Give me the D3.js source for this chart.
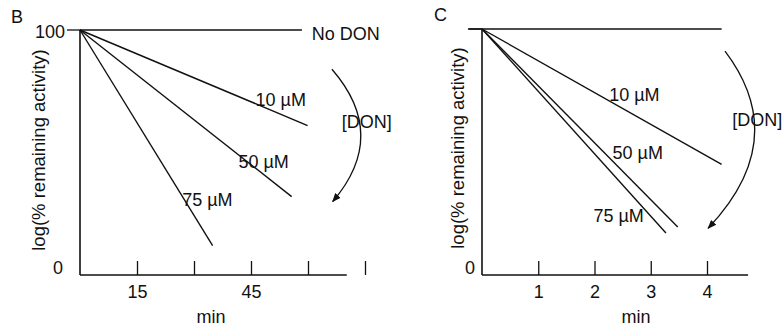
<!DOCTYPE html>
<html>
<head>
<meta charset="utf-8">
<script src="https://cdn.jsdelivr.net/npm/d3@7"></script>
<style>
  body { margin: 0; background: #fff; }
  svg { display: block; font-family: "Liberation Sans", Arial, sans-serif; }
  text { fill: #111; }
</style>
</head>
<body>
<svg width="783" height="327"></svg>
<script>
var WIDTH = 783;
var HEIGHT = 327;

// panel B: time in min, y = % remaining activity (log axis drawn schematically)
var bSeries = ['No DON', '10 \u00b5M', '50 \u00b5M', '75 \u00b5M'];
var bStart = [0, 100];
var bEndX = [58.4, 59.9, 55.7, 34.9];
var bEndY = [100, 61, 32, 12];
var bTickValues = [15, 30, 45, 60, 75];
var bTickText = ['15', '', '45', '', ''];
// label anchors (data units)
var bLabelX = [61.0, 46.2, 41.7, 26.9];
var bLabelY = [98.4, 71.4, 46.1, 30.6];
var bArrow = [[66.3, 84], [73.9, 57], [66.5, 30]];
var bArrowLabel = [68.9, 62.4];

// panel C
var cSeries = ['', '10 \u00b5M', '50 \u00b5M', '75 \u00b5M'];
var cStart = [0, 100];
var cEndX = [4.26, 4.26, 3.48, 3.27];
var cEndY = [100, 45, 19.5, 17.1];
var cTickValues = [1, 2, 3, 4];
var cTickText = ['1', '2', '3', '4'];
var cLabelX = [0, 2.26, 2.32, 1.98];
var cLabelY = [0, 73.2, 49.6, 24.0];
var cArrow = [[4.32, 91], [4.84, 55], [4.02, 19]];
var cArrowLabel = [4.45, 63.0];

var svg = d3.select('svg')
  .attr('width', WIDTH)
  .attr('height', HEIGHT);

svg.append('defs').append('marker')
  .attr('id', 'head')
  .attr('viewBox', '0 0 10 10')
  .attr('refX', 9).attr('refY', 5)
  .attr('markerWidth', 9).attr('markerHeight', 9)
  .attr('markerUnits', 'userSpaceOnUse')
  .attr('orient', 'auto')
  .append('path')
  .attr('d', 'M0,1 L10,5 L0,9 Z')
  .attr('fill', '#111');

function drawPanel(p) {
  var x = d3.scaleLinear().domain(p.xDomain).range(p.xRange);
  var y = d3.scaleLinear().domain([0, 100]).range(p.yRange);
  var g = svg.append('g');

  // letter
  g.append('text').attr('x', p.letterPos[0]).attr('y', p.letterPos[1])
    .attr('font-size', 18).text(p.letter);

  // y axis
  g.append('line')
    .attr('x1', x(0)).attr('x2', x(0))
    .attr('y1', y(100)).attr('y2', y(0))
    .attr('stroke', '#111').attr('stroke-width', 1.6);
  g.append('line')
    .attr('x1', x(0) - 13).attr('x2', x(0))
    .attr('y1', y(100)).attr('y2', y(100))
    .attr('stroke', '#111').attr('stroke-width', 1.3);
  if (p.showTop) {
    g.append('text').attr('x', x(0) - 15).attr('y', y(100) + 2)
      .attr('text-anchor', 'end').attr('dominant-baseline', 'central')
      .attr('font-size', 18).text('100');
  }
  g.append('text').attr('x', x(0) - p.zeroGap).attr('y', y(0) - 7)
    .attr('text-anchor', 'end').attr('dominant-baseline', 'central')
    .attr('font-size', 18).text('0');

  g.append('text')
    .attr('transform', 'translate(' + p.yLabelX + ',' + p.yLabelY + ') rotate(-90)')
    .attr('text-anchor', 'middle').attr('dominant-baseline', 'central')
    .attr('font-size', 18.5).text('log(% remaining activity)');

  // x axis
  g.append('line')
    .attr('x1', x(0)).attr('x2', x(p.axisEnd))
    .attr('y1', y(0)).attr('y2', y(0))
    .attr('stroke', '#111').attr('stroke-width', 1.5);
  var ax = g.append('g')
    .attr('transform', 'translate(0,' + y(0) + ')')
    .call(d3.axisBottom(x)
      .tickValues(p.ticks)
      .tickSizeInner(-14).tickSizeOuter(0).tickPadding(10)
      .tickFormat(function (d, i) { return p.tickText[i]; }));
  ax.select('.domain').remove();
  ax.selectAll('line').attr('stroke', '#111').attr('stroke-width', 1.3);
  ax.selectAll('text').attr('font-size', 18).attr('font-family', null).attr('fill', '#111');

  g.append('text').attr('x', p.minX).attr('y', 317)
    .attr('text-anchor', 'middle').attr('dominant-baseline', 'central')
    .attr('font-size', 18).text('min');

  // decay lines
  var rows = p.endX.map(function (ex, i) {
    return { x0: (i === 0 ? p.topStart : p.start[0]), y0: p.start[1], x1: ex, y1: p.endY[i] };
  });
  g.selectAll('.decay').data(rows).enter().append('line')
    .attr('class', 'decay')
    .attr('x1', function (d) { return x(d.x0); })
    .attr('y1', function (d) { return y(d.y0); })
    .attr('x2', function (d) { return x(d.x1); })
    .attr('y2', function (d) { return y(d.y1); })
    .attr('stroke', '#111').attr('stroke-width', 1.4);

  g.selectAll('.lab').data(p.series).enter().append('text')
    .attr('class', 'lab')
    .attr('x', function (d, i) { return x(p.labelX[i]); })
    .attr('y', function (d, i) { return y(p.labelY[i]); })
    .attr('dominant-baseline', 'central')
    .attr('font-size', 18)
    .text(function (d) { return d; });

  // [DON] arrow: quadratic curve passing through the middle point
  var a0 = [x(p.arrow[0][0]), y(p.arrow[0][1])];
  var am = [x(p.arrow[1][0]), y(p.arrow[1][1])];
  var a1 = [x(p.arrow[2][0]), y(p.arrow[2][1])];
  var cx = 2 * am[0] - (a0[0] + a1[0]) / 2;
  var cy = 2 * am[1] - (a0[1] + a1[1]) / 2;
  var path = d3.path();
  path.moveTo(a0[0], a0[1]);
  path.quadraticCurveTo(cx, cy, a1[0], a1[1]);
  g.append('path')
    .attr('d', path.toString())
    .attr('fill', 'none').attr('stroke', '#111').attr('stroke-width', 1.3)
    .attr('marker-end', 'url(#head)');
  g.append('text')
    .attr('x', x(p.arrowLabel[0])).attr('y', y(p.arrowLabel[1]))
    .attr('dominant-baseline', 'central')
    .attr('font-size', 18).text('[DON]');
}

drawPanel({
  letter: 'B', letterPos: [11, 23],
  xDomain: [0, 75], xRange: [80, 365], yRange: [275, 30],
  showTop: true, zeroGap: 17, yLabelX: 38, yLabelY: 150, minX: 211,
  axisEnd: 70.2, ticks: bTickValues, tickText: bTickText,
  series: bSeries, start: bStart, topStart: 0, endX: bEndX, endY: bEndY,
  labelX: bLabelX, labelY: bLabelY, arrow: bArrow, arrowLabel: bArrowLabel
});

drawPanel({
  letter: 'C', letterPos: [434, 21],
  xDomain: [0, 4], xRange: [482, 707], yRange: [275, 29],
  showTop: false, zeroGap: 7, yLabelX: 457, yLabelY: 148, minX: 636,
  axisEnd: 4.73, ticks: cTickValues, tickText: cTickText,
  series: cSeries, start: cStart, topStart: -0.25, endX: cEndX, endY: cEndY,
  labelX: cLabelX, labelY: cLabelY, arrow: cArrow, arrowLabel: cArrowLabel
});
</script>
</body>
</html>
